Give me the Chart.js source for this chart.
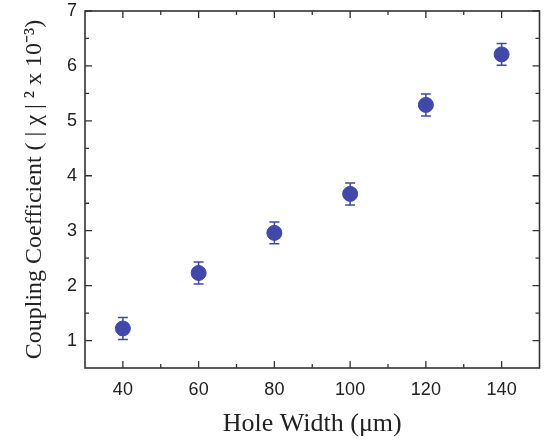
<!DOCTYPE html>
<html>
<head>
<meta charset="utf-8">
<script src="https://cdn.jsdelivr.net/npm/chart.js@4"></script>
<style>
  html, body { margin: 0; padding: 0; background: #fff; }
  #wrap { width: 548px; height: 441px; }
</style>
</head>
<body>
<div id="wrap"><canvas id="couplingChart" width="548" height="441"></canvas></div>
<script>
// Hole width (um) vs coupling coefficient |chi|^2 x 10^-3
const holeWidths = [40, 60, 80, 100, 120, 140];
const coupling = [1.22, 2.23, 2.96, 3.67, 5.29, 6.21];
const couplingErr = [0.2, 0.2, 0.2, 0.2, 0.2, 0.2];
const xTicks = [40, 60, 80, 100, 120, 140];
const xMinorTicks = [50, 70, 90, 110, 130];
const yTicks = [1, 2, 3, 4, 5, 6, 7];
const yMinorTicks = [1.5, 2.5, 3.5, 4.5, 5.5, 6.5];

const markerColor = '#4048AA';
const axisColor = '#333';

// error bars drawn through the chart's own scales
const errorBars = {
  id: 'errorBars',
  afterDatasetsDraw(chart) {
    const { ctx, scales: { x, y } } = chart;
    ctx.save();
    ctx.strokeStyle = markerColor;
    ctx.lineWidth = 1.5;
    holeWidths.forEach((w, i) => {
      const px = x.getPixelForValue(w);
      const top = y.getPixelForValue(coupling[i] + couplingErr[i]);
      const bot = y.getPixelForValue(coupling[i] - couplingErr[i]);
      ctx.beginPath();
      ctx.moveTo(px, top); ctx.lineTo(px, bot);
      ctx.moveTo(px - 5, top); ctx.lineTo(px + 5, top);
      ctx.moveTo(px - 5, bot); ctx.lineTo(px + 5, bot);
      ctx.stroke();
    });
    ctx.restore();
  }
};

// frame plus inward ticks on all four sides
const frameTicks = {
  id: 'frameTicks',
  afterDraw(chart) {
    const { ctx, chartArea: a, scales: { x, y } } = chart;
    ctx.save();
    ctx.strokeStyle = axisColor;
    ctx.lineWidth = 1.6;
    ctx.strokeRect(a.left, a.top, a.right - a.left, a.bottom - a.top);
    ctx.lineWidth = 1.3;
    ctx.beginPath();
    const tickX = (vals, len) => vals.forEach(v => {
      const p = x.getPixelForValue(v);
      ctx.moveTo(p, a.bottom); ctx.lineTo(p, a.bottom - len);
      ctx.moveTo(p, a.top); ctx.lineTo(p, a.top + len);
    });
    const tickY = (vals, len) => vals.forEach(v => {
      const p = y.getPixelForValue(v);
      ctx.moveTo(a.left, p); ctx.lineTo(a.left + len, p);
      ctx.moveTo(a.right, p); ctx.lineTo(a.right - len, p);
    });
    tickX(xTicks, 7); tickX(xMinorTicks, 4);
    tickY(yTicks, 7); tickY(yMinorTicks, 4);
    ctx.stroke();
    ctx.restore();
  }
};

const ctx = document.getElementById('couplingChart').getContext('2d');
new Chart(ctx, {
  type: 'scatter',
  data: {
    datasets: [{
      label: 'Coupling',
      data: holeWidths.map((w, i) => ({ x: w, y: coupling[i] })),
      backgroundColor: markerColor,
      borderColor: markerColor,
      pointRadius: 7.5,
      pointHoverRadius: 7.5
    }]
  },
  options: {
    responsive: false,
    animation: false,
    layout: { padding: { top: 11, right: 7, left: 0, bottom: 0 } },
    plugins: { legend: { display: false }, tooltip: { enabled: false } },
    scales: {
      x: {
        type: 'linear',
        min: 30, max: 150,
        afterBuildTicks: s => { s.ticks = xTicks.map(v => ({ value: v })); },
        afterFit: s => { s.height = 73; s.paddingLeft = 0; s.paddingRight = 0; },
        grid: { display: false, drawTicks: false },
        border: { display: false },
        ticks: { color: '#222', padding: 11, font: { family: 'Liberation Sans', size: 18 } },
        title: {
          display: true,
          text: 'Hole Width (\u03BCm)',
          color: '#222',
          padding: { top: 2, bottom: 1 },
          font: { family: 'Liberation Serif', size: 26 }
        }
      },
      y: {
        type: 'linear',
        min: 0.5, max: 7,
        afterBuildTicks: s => { s.ticks = yTicks.map(v => ({ value: v })); },
        afterFit: s => { s.width = 85; s.paddingTop = 0; s.paddingBottom = 0; },
        grid: { display: false, drawTicks: false },
        border: { display: false },
        ticks: { color: '#222', padding: 8, font: { family: 'Liberation Sans', size: 18 } },
        title: {
          display: true,
          text: 'Coupling Coefficient ( | \u03C7 | \u00B2 x 10\u207B\u00B3)',
          color: '#222',
          padding: { top: 20, bottom: 0 },
          font: { family: 'Liberation Serif', size: 24 }
        }
      }
    }
  },
  plugins: [errorBars, frameTicks]
});
</script>
</body>
</html>
